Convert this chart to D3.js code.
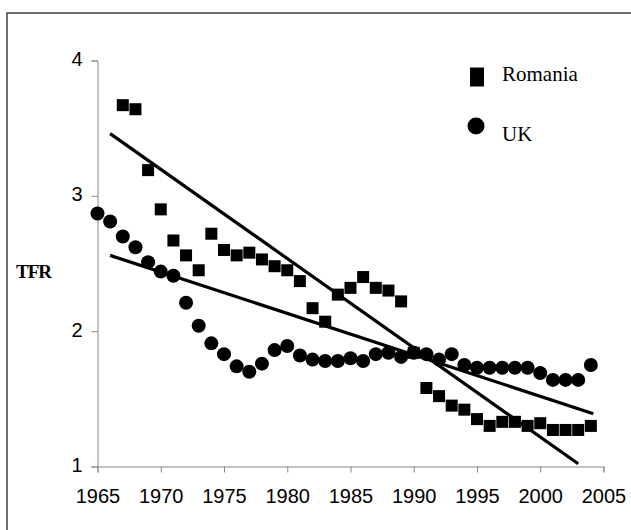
<!DOCTYPE html>
<html>
<head>
<meta charset="utf-8">
<script src="https://cdn.jsdelivr.net/npm/d3@7"></script>
<style>
  body { margin: 0; background: #fff; }
  svg { display: block; }
</style>
</head>
<body>
<script>
// data
const romaniaYears = d3.range(1967, 2005);
const romaniaTFR = [3.67, 3.64, 3.19, 2.90, 2.67, 2.56, 2.45, 2.72, 2.60, 2.56,
  2.58, 2.53, 2.48, 2.45, 2.37, 2.17, 2.07, 2.27, 2.32, 2.40,
  2.32, 2.30, 2.22, 1.84, 1.58, 1.52, 1.45, 1.42, 1.35, 1.30,
  1.33, 1.33, 1.30, 1.32, 1.27, 1.27, 1.27, 1.30];

const ukYears = d3.range(1965, 2005);
const ukTFR = [2.87, 2.81, 2.70, 2.62, 2.51, 2.44, 2.41, 2.21, 2.04, 1.91,
  1.83, 1.74, 1.70, 1.76, 1.86, 1.89, 1.82, 1.79, 1.78, 1.78,
  1.80, 1.78, 1.83, 1.84, 1.81, 1.84, 1.83, 1.79, 1.83, 1.75,
  1.73, 1.73, 1.73, 1.73, 1.73, 1.69, 1.64, 1.64, 1.64, 1.75];

// trend line ends [year, TFR]
const romaniaTrend = [[1966, 3.46], [2003, 1.02]];
const ukTrend = [[1966, 2.56], [2004.2, 1.39]];

const xTicks = [1965, 1970, 1975, 1980, 1985, 1990, 1995, 2000, 2005];
const yTicks = [1, 2, 3, 4];

const w = 631, h = 530;
const svg = d3.select("body").append("svg")
  .attr("width", w)
  .attr("height", h);

// outer frame (runs off right and bottom edge)
svg.append("rect")
  .attr("x", 7).attr("y", 13)
  .attr("width", 660).attr("height", 560)
  .attr("fill", "none")
  .attr("stroke", "#333")
  .attr("stroke-width", 1.4);

const x = d3.scaleLinear().domain([1965, 2005]).range([97.5, 603.5]);
const y = d3.scaleLinear().domain([1, 4]).range([466.5, 60.5]);

const axisColor = "#888";

// x axis
const xAxisG = svg.append("g")
  .attr("transform", "translate(0," + y(1) + ")")
  .call(d3.axisBottom(x).tickValues(xTicks).tickFormat(d3.format("d")).tickSizeOuter(0).tickSize(6).tickPadding(16));
xAxisG.select(".domain").attr("stroke", axisColor);
xAxisG.selectAll(".tick line").attr("stroke", axisColor);
xAxisG.selectAll("text")
  .attr("font-family", "'Liberation Sans', Arial, sans-serif")
  .attr("font-size", 20)
  .attr("fill", "#000");

// y axis
const yAxisG = svg.append("g")
  .attr("transform", "translate(" + x(1965) + ",0)")
  .call(d3.axisLeft(y).tickValues(yTicks).tickFormat(d3.format("d")).tickSizeOuter(0).tickSize(6).tickPadding(9));
yAxisG.select(".domain").attr("stroke", axisColor);
yAxisG.selectAll(".tick line").attr("stroke", axisColor);
yAxisG.selectAll("text")
  .attr("font-family", "'Liberation Sans', Arial, sans-serif")
  .attr("font-size", 20)
  .attr("dy", "0.25em")
  .attr("fill", "#000");

// axis title
svg.append("text")
  .attr("x", 16).attr("y", 278)
  .attr("font-family", "'Liberation Serif', 'Times New Roman', serif")
  .attr("font-weight", "bold")
  .attr("font-size", 19)
  .attr("letter-spacing", -1)
  .text("TFR");

// trend lines
const line = d3.line().x(d => x(d[0])).y(d => y(d[1]));
[romaniaTrend, ukTrend].forEach(t => {
  svg.append("path")
    .attr("d", line(t))
    .attr("fill", "none")
    .attr("stroke", "#000")
    .attr("stroke-width", 3.2);
});

// UK circles
const uk = ukYears.map((yr, i) => [yr, ukTFR[i]]);
svg.append("g").selectAll("circle")
  .data(uk)
  .enter()
  .append("circle")
  .attr("cx", d => x(d[0]))
  .attr("cy", d => y(d[1]))
  .attr("r", 7)
  .attr("fill", "#000");

// Romania squares
const sq = 12;
const ro = romaniaYears.map((yr, i) => [yr, romaniaTFR[i]]);
svg.append("g").selectAll("rect")
  .data(ro)
  .enter()
  .append("rect")
  .attr("x", d => x(d[0]) - sq / 2)
  .attr("y", d => y(d[1]) - sq / 2)
  .attr("width", sq)
  .attr("height", sq)
  .attr("fill", "#000");

// legend
const legend = svg.append("g");
legend.append("rect")
  .attr("x", 470).attr("y", 67.5)
  .attr("width", 14).attr("height", 19)
  .attr("fill", "#000");
legend.append("circle")
  .attr("cx", 476).attr("cy", 126)
  .attr("r", 8.5)
  .attr("fill", "#000");
legend.selectAll("text")
  .data(["Romania", "UK"])
  .enter()
  .append("text")
  .attr("x", 502)
  .attr("y", (d, i) => i === 0 ? 81 : 141)
  .attr("font-family", "'Liberation Serif', 'Times New Roman', serif")
  .attr("font-size", 21)
  .text(d => d);
</script>
</body>
</html>
